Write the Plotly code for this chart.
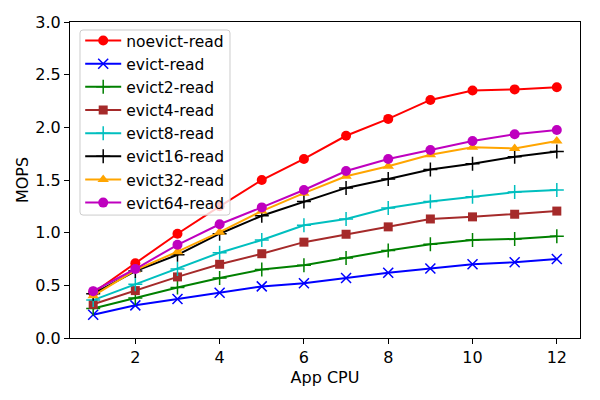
import plotly.graph_objects as go

app_cpu = [1, 2, 3, 4, 5, 6, 7, 8, 9, 10, 11, 12]

noevict_read = [0.43, 0.71, 0.99, 1.25, 1.50, 1.70, 1.92, 2.08, 2.26, 2.35, 2.36, 2.38]
evict_read = [0.22, 0.31, 0.37, 0.43, 0.49, 0.52, 0.57, 0.62, 0.66, 0.70, 0.72, 0.75]
evict2_read = [0.28, 0.38, 0.48, 0.57, 0.65, 0.69, 0.76, 0.83, 0.89, 0.93, 0.94, 0.965]
evict4_read = [0.32, 0.45, 0.58, 0.70, 0.80, 0.91, 0.985, 1.055, 1.13, 1.15, 1.175, 1.205]
evict8_read = [0.36, 0.51, 0.655, 0.81, 0.93, 1.07, 1.13, 1.235, 1.295, 1.34, 1.385, 1.405]
evict16_read = [0.42, 0.635, 0.79, 0.99, 1.16, 1.295, 1.425, 1.51, 1.60, 1.655, 1.72, 1.77]
evict32_read = [0.40, 0.645, 0.82, 1.005, 1.205, 1.375, 1.535, 1.63, 1.74, 1.81, 1.80, 1.87]
evict64_read = [0.445, 0.655, 0.885, 1.08, 1.24, 1.405, 1.585, 1.70, 1.785, 1.87, 1.935, 1.975]

series = [
    ("noevict-read", noevict_read, "#ff0000", "circle"),
    ("evict-read", evict_read, "#0000ff", "x-thin"),
    ("evict2-read", evict2_read, "#008000", "cross-thin"),
    ("evict4-read", evict4_read, "#a52a2a", "square"),
    ("evict8-read", evict8_read, "#00bfbf", "cross-thin"),
    ("evict16-read", evict16_read, "#000000", "cross-thin"),
    ("evict32-read", evict32_read, "#ffa500", "triangle-up"),
    ("evict64-read", evict64_read, "#bf00bf", "circle"),
]

fig = go.Figure()
for name, vals, color, sym in series:
    thin = sym.endswith("-thin")
    size = {"circle": 10, "square": 9, "triangle-up": 10}.get(sym, 10)
    fig.add_trace(go.Scatter(
        x=app_cpu, y=vals, name=name, mode="lines+markers",
        line=dict(color=color, width=2),
        marker=dict(symbol=sym, size=size, color=color,
                    line=dict(color=color, width=1.5 if thin else 0)),
    ))

axis_common = dict(
    showline=True, linecolor="black", linewidth=1, mirror=True,
    ticks="outside", ticklen=5, tickwidth=1, tickcolor="black",
    showgrid=False, zeroline=False, automargin=False,
    tickfont=dict(family="DejaVu Sans", size=16, color="black"),
)

# legend frame (matplotlib-style rounded, semi-transparent box)
x0, x1, y0, y1 = 0.0196, 0.3137, 0.389, 0.9747
rx, ry = 0.006, 0.0095
frame_path = (
    f"M {x0+rx},{y1} L {x1-rx},{y1} Q {x1},{y1} {x1},{y1-ry} "
    f"L {x1},{y0+ry} Q {x1},{y0} {x1-rx},{y0} "
    f"L {x0+rx},{y0} Q {x0},{y0} {x0},{y0+ry} "
    f"L {x0},{y1-ry} Q {x0},{y1} {x0+rx},{y1} Z"
)

# page body has an 8px margin, so margins are offset to compensate
fig.update_layout(
    width=600, height=400,
    margin=dict(l=62, r=28, t=14, b=70),
    paper_bgcolor="white", plot_bgcolor="white",
    font=dict(family="DejaVu Sans", size=16, color="black"),
    xaxis=dict(range=[0.45, 12.55], tickvals=[2, 4, 6, 8, 10, 12],
               title=dict(text="App CPU", font=dict(size=16), standoff=5),
               **axis_common),
    yaxis=dict(range=[0, 3.0], tickvals=[0, 0.5, 1.0, 1.5, 2.0, 2.5, 3.0],
               tickformat=".1f",
               title=dict(text="MOPS", font=dict(size=16), standoff=2),
               **axis_common),
    legend=dict(x=0.02, y=0.9937, xanchor="left", yanchor="top",
                bgcolor="rgba(0,0,0,0)", borderwidth=0,
                font=dict(size=15.5), tracegroupgap=0, itemwidth=36),
    shapes=[dict(type="path", xref="paper", yref="paper", path=frame_path,
                 fillcolor="rgba(255,255,255,0.8)",
                 line=dict(color="#cccccc", width=1), layer="above")],
    showlegend=True,
)

fig.write_html("out.html")
